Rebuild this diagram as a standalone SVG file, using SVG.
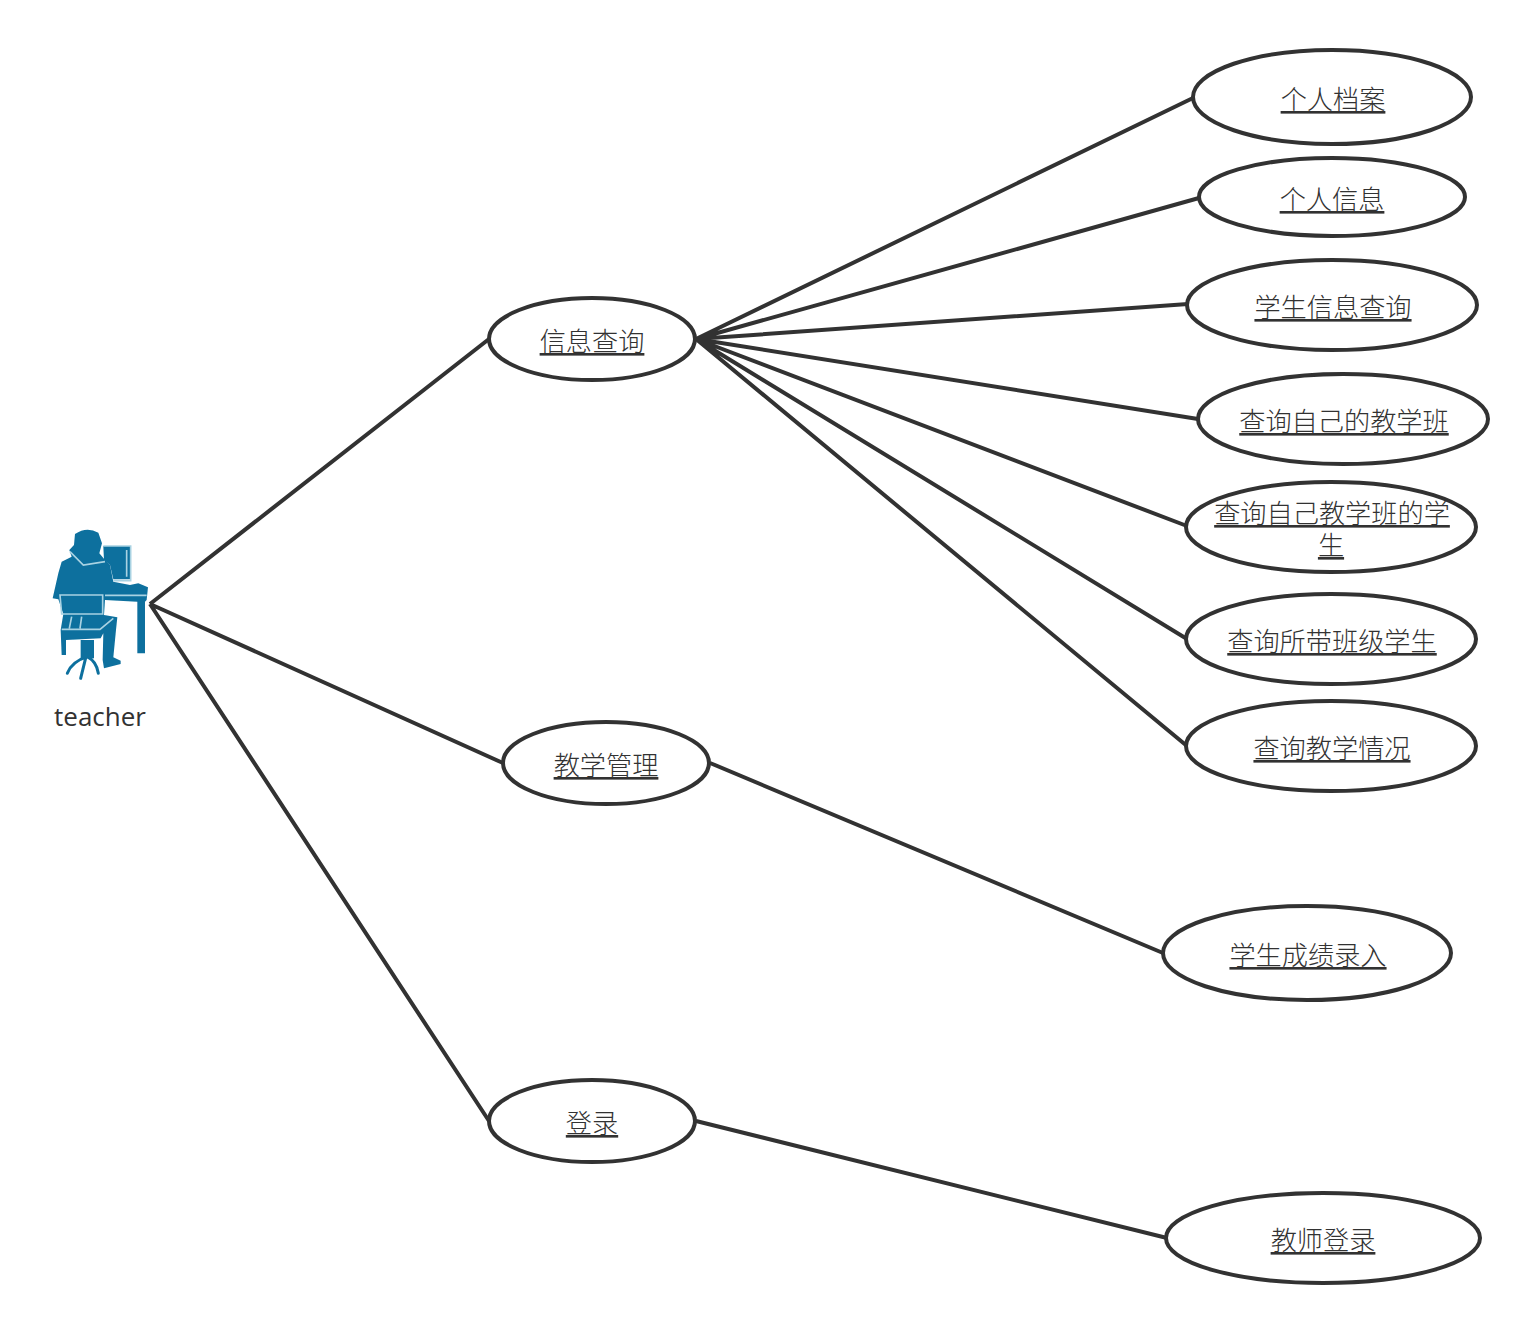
<svg xmlns="http://www.w3.org/2000/svg" width="1538" height="1335" viewBox="0 0 1538 1335">
<style>
.e{fill:#fff;stroke:#323232;stroke-width:4}
.c{fill:none;stroke:#323232;stroke-width:4}
.t{font-family:"Noto Sans CJK SC","Noto Sans",sans-serif;font-size:26.2px;font-weight:300;fill:#323232;text-anchor:middle;text-decoration:underline}
.a{font-family:"Open Sans","Noto Sans",sans-serif;font-size:26px;fill:#323232;text-anchor:middle}
.w{fill:none;stroke:#a9d2e2;stroke-width:5}
.f{stroke:#0b6f9e;fill:none;stroke-width:9;stroke-linecap:round}
</style>
<defs><filter id="soft" x="-5%" y="-5%" width="110%" height="110%"><feGaussianBlur stdDeviation="0.5"/></filter></defs>
<rect width="1538" height="1335" fill="#fff"/>
<g id="connectors" class="c">
<path d="M150 604L489 339M150 604L503 763M150 604L489 1121"/>
<path d="M696 339L1193 98M696 339L1199 198M696 339L1188 304M696 339L1198 419M696 339L1187 526M696 339L1187 639M696 339L1187 746"/>
<path d="M710 763L1163 953M696 1121L1167 1238"/>
</g>
<g id="teacher">
<g transform="translate(30 510) scale(.3333)" filter="url(#soft)">
<path fill="#0b6f9e" d="M135 72Q170 48 205 68L216 100L208 130L225 150L240 165L250 215L300 225L325 220L354 232L350 270L345 275V430H322V275L225 270L222 315L262 322L258 360L250 442L272 452L272 462L222 475L218 450L220 370L212 385L108 390V435H95L92 360L100 312L85 268L68 265L85 190L95 155L125 140L118 120L132 105Z"/>
<path fill="#0b6f9e" d="M220 108H303V208H250L240 165L222 150Z"/>
<path class="w" d="M220 108H302V212H250M290 120V200M120 125L160 165L225 155M90 255H218V312H95ZM225 256H350M95 358H210L250 325M125 320L118 355M155 320L150 355"/>
<path class="f" d="M172 395V440M172 440Q125 455 112 490M168 440L152 505M172 440Q200 455 205 490"/>
<path fill="#0b6f9e" d="M152 390H192V445H152Z"/>
</g>
<text class="a" x="100" y="726">teacher</text>
</g>
<g id="n1"><ellipse class="e" cx="592" cy="339" rx="103" ry="41"/><text class="t" x="592" y="351">信息查询</text></g>
<g id="n2"><ellipse class="e" cx="606" cy="763" rx="103" ry="41"/><text class="t" x="606" y="775">教学管理</text></g>
<g id="n3"><ellipse class="e" cx="592" cy="1121" rx="103" ry="41"/><text class="t" x="592" y="1133">登录</text></g>
<g id="n4"><ellipse class="e" cx="1332" cy="97" rx="139" ry="47"/><text class="t" x="1333" y="109">个人档案</text></g>
<g id="n5"><ellipse class="e" cx="1332" cy="197" rx="133" ry="39"/><text class="t" x="1332" y="209">个人信息</text></g>
<g id="n6"><ellipse class="e" cx="1332" cy="305" rx="145" ry="45"/><text class="t" x="1333" y="317">学生信息查询</text></g>
<g id="n7"><ellipse class="e" cx="1343" cy="419" rx="145" ry="45"/><text class="t" x="1344" y="431">查询自己的教学班</text></g>
<g id="n8"><ellipse class="e" cx="1331" cy="527" rx="145" ry="45"/><text class="t" x="1332" y="523">查询自己教学班的学</text><text class="t" x="1331" y="555">生</text></g>
<g id="n9"><ellipse class="e" cx="1331" cy="639" rx="145" ry="45"/><text class="t" x="1332" y="651">查询所带班级学生</text></g>
<g id="n10"><ellipse class="e" cx="1331" cy="746" rx="145" ry="45"/><text class="t" x="1332" y="758">查询教学情况</text></g>
<g id="n11"><ellipse class="e" cx="1307" cy="953" rx="144" ry="47"/><text class="t" x="1308" y="965">学生成绩录入</text></g>
<g id="n12"><ellipse class="e" cx="1323" cy="1238" rx="157" ry="45"/><text class="t" x="1323" y="1250">教师登录</text></g>
</svg>
